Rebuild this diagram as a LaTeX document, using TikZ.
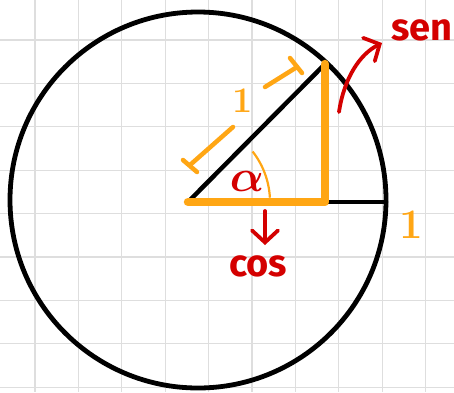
\documentclass[tikz,border=0pt]{standalone}
\usepackage{bm}
\usepackage{fontspec}
\usetikzlibrary{arrows.meta}
\newfontfamily\hand{Fira Sans}
\definecolor{myorange}{RGB}{255,166,20}
\definecolor{myred}{RGB}{212,0,0}
\definecolor{gridgray}{RGB}{222,222,222}
\tikzset{
  gridline/.style={gridgray, line width=1.3pt},
  blackline/.style={black, line width=4.5pt, line cap=round},
  orangethick/.style={myorange, line width=8.5pt, line cap=round, line join=round},
  orangethin/.style={myorange, line width=4.5pt, line cap=round},
  anglearc/.style={myorange, line width=2.2pt},
  redarrow/.style={myred, line width=3.8pt, line cap=round, line join=round,
    -{Straight Barb[length=12pt,width=26pt,line cap=round]}},
  redlabel/.style={myred, font=\hand\bfseries\fontsize{38}{38}\selectfont, inner sep=0pt},
  orangelabel/.style={myorange, inner sep=0pt},
}
\begin{document}
\begin{tikzpicture}[x=1pt,y=-1pt]
\useasboundingbox (0,0) rectangle (454,392);
\fill[white] (0,0) rectangle (454,392);
\foreach \i in {0,...,9} \draw[gridline] ({35+43.4*\i},0) -- ({35+43.4*\i},392);
\foreach \j in {0,...,8} \draw[gridline] (0,{40+43.4*\j}) -- (454,{40+43.4*\j});

% circle
\coordinate (C) at (198,200);
\draw[black, line width=4.8pt] (C) circle[radius=188pt];

% triangle points
\coordinate (O) at (188,202);
\coordinate (P) at (325,64);
\coordinate (F) at (325,202);
\coordinate (E) at (386,202);

\draw[blackline] (O) -- (P);
\draw[blackline] (F) -- (E);
\draw[orangethick] (O) -- (F) -- (P);

% angle arc
\draw[anglearc] (O) ++(3:82pt) arc[start angle=3, end angle=38, radius=82pt];

% dimension marks along the hypotenuse
\coordinate (A1) at (265,87);
\coordinate (A2) at (297,67);
\coordinate (T1) at (290,58);
\coordinate (T2) at (302,73);
\coordinate (B1) at (233,127);
\coordinate (B2) at (190,165);
\coordinate (U1) at (183,160);
\coordinate (U2) at (197,172);
\draw[orangethin] (A1) -- (A2);
\draw[orangethin] (T1) -- (T2);
\draw[orangethin] (B1) -- (B2);
\draw[orangethin] (U1) -- (U2);

% labels
\node[orangelabel, font=\bfseries\fontsize{36}{36}\selectfont] (one1) at (243,101) {1};
\node[orangelabel, font=\bfseries\fontsize{42}{42}\selectfont] (one2) at (411,225) {1};
\node[text=myred, inner sep=0pt] (alpha) at (247,181) {\scalebox{4.5}{$\bm{\alpha}$}};
\node[redlabel, anchor=base] (cos) at (258,276) {cos};
\node[redlabel, anchor=base] (sen) at (422,40) {sen};

% arrows
\coordinate (S0) at (339,112);
\coordinate (S1) at (382,43);
\draw[redarrow] (S0) .. controls (344,78) and (360,54) .. (S1);
\coordinate (D0) at (265,211);
\coordinate (D1) at (265,245);
\draw[redarrow] (D0) -- (D1);
\end{tikzpicture}
\end{document}
